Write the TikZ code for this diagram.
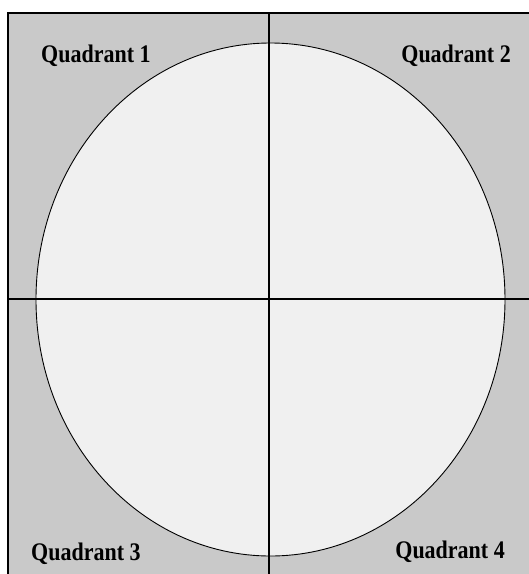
\documentclass[tikz,border=0pt]{standalone}
\usepackage{fontspec}
\setmainfont{Liberation Serif}
\newcommand{\qtxt}[1]{\scalebox{1}[1.15]{#1}}
\begin{document}
\begin{tikzpicture}[x=1pt,y=-1pt,
  frame/.style={draw=black,line width=1.3pt},
  axis/.style={draw=black,line width=1.3pt},
  qlabel/.style={font=\bfseries\fontsize{22}{24}\selectfont,inner sep=0pt}]
\useasboundingbox (0,0) rectangle (529,574);
\fill[white] (0,0) rectangle (529,574);
\fill[gray!42!white] (8,13) rectangle (529,574);
\draw[frame] (529,13) -- (8,13) -- (8,574);
\filldraw[fill=gray!12!white,draw=black,line width=0.9pt] (270.5,299.5) ellipse [x radius=234.5,y radius=256.5];
\coordinate (vt) at (269,13);
\coordinate (vb) at (269,574);
\coordinate (hl) at (8,299);
\coordinate (hr) at (529,299);
\draw[axis] (vt) -- (vb);
\draw[axis] (hl) -- (hr);
\node[qlabel,anchor=base west] (q1) at (41,62) {\qtxt{Quadrant 1}};
\node[qlabel,anchor=base east] (q2) at (511,62) {\qtxt{Quadrant 2}};
\node[qlabel,anchor=base west] (q3) at (31,560) {\qtxt{Quadrant 3}};
\node[qlabel,anchor=base east] (q4) at (505,558) {\qtxt{Quadrant 4}};
\end{tikzpicture}
\end{document}
